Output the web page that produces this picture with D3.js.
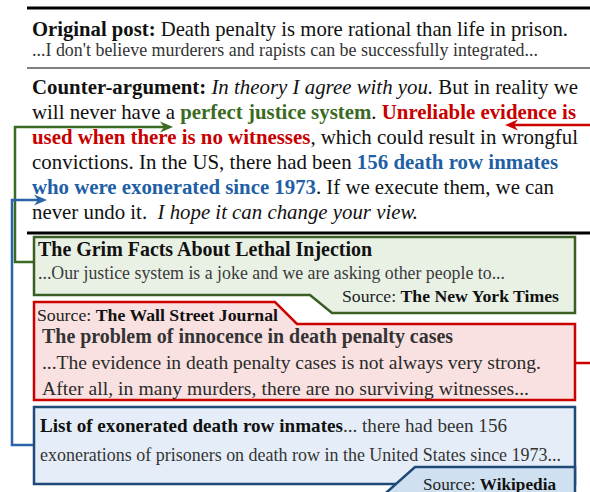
<!DOCTYPE html>
<html><head><meta charset="utf-8">
<script src="https://cdn.jsdelivr.net/npm/d3@7"></script>
<style>
body{margin:0;background:#fff}
svg{display:block}
</style>
</head><body><svg id="c" width="590" height="492"></svg>
<script>
// ---- text data ----
const postLine = [{t:"Original post:",s:"b"},{t:" Death penalty is more rational than life in prison."}];
const postSnippet = "...I don't believe murderers and rapists can be successfully integrated...";
const counterLines = [
  [{t:"Counter-argument:",s:"b"},{t:" "},{t:"In theory I agree with you.",s:"i"},{t:" But in reality we"}],
  [{t:"will never have a "},{t:"perfect justice system",s:"b",c:"g"},{t:". "},{t:"Unreliable evidence is",s:"b",c:"r"}],
  [{t:"used when there is no witnesses",s:"b",c:"r"},{t:", which could result in wrongful"}],
  [{t:"convictions. In the US, there had been "},{t:"156 death row inmates",s:"b",c:"b"}],
  [{t:"who were exonerated since 1973",s:"b",c:"b"},{t:". If we execute them, we can"}],
  [{t:"never undo it.  "},{t:"I hope it can change your view.",s:"i"}]
];
const counterWidths = [546, 544, 546, 526, 522, 386];
const greenCard = {title:"The Grim Facts About Lethal Injection",
  snippet:"...Our justice system is a joke and we are asking other people to...",
  source:"The New York Times"};
const redCard = {title:"The problem of innocence in death penalty cases",
  snippet:["...The evidence in death penalty cases is not always very strong.",
           "After all, in many murders, there are no surviving witnesses..."],
  source:"The Wall Street Journal"};
const blueCard = {title:"List of exonerated death row inmates",
  tail:"... there had been 156",
  snippet:"exonerations of prisoners on death row in the United States since 1973...",
  source:"Wikipedia"};

// ---- styling ----
const FONT = '"Liberation Serif","Times New Roman",Tinos,serif';
const COL = {g:"#3b6b22", r:"#c80000", b:"#1f5fa6"};
const svg = d3.select("#c");
const yLine = d3.scaleLinear().domain([0,5]).range([94,219]);

function rich(x, y, segs, fill){
  const t = svg.append("text").attr("x",x).attr("y",y)
    .style("font-family",FONT).style("white-space","pre").attr("font-size",20).attr("fill",fill||"#111");
  segs.forEach(s=>{
    const ts = t.append("tspan").text(s.t);
    if(s.s==="b") ts.attr("font-weight","bold");
    if(s.s==="i") ts.attr("font-style","italic");
    if(s.c) ts.attr("fill", COL[s.c]);
    if(s.f) ts.attr("fill", s.f);
  });
  return t;
}
// fit a group of lines: common font size from median ratio, then exact width via spacing
function fit(texts, widths){
  const ratios = texts.map((t,i)=> widths[i]/t.node().getComputedTextLength());
  const r = d3.median(ratios);
  texts.forEach((t,i)=>{
    t.attr("font-size", 20*r);
    t.attr("textLength", widths[i]).attr("lengthAdjust","spacing");
  });
}

// rules
svg.append("line").attr("x1",27).attr("x2",590).attr("y1",8).attr("y2",8).attr("stroke","#000").attr("stroke-width",3);
svg.append("line").attr("x1",27).attr("x2",590).attr("y1",68).attr("y2",68).attr("stroke","#555").attr("stroke-width",1.5);
svg.append("line").attr("x1",27).attr("x2",590).attr("y1",233).attr("y2",233).attr("stroke","#000").attr("stroke-width",3);

// post
fit([rich(32, 36, postLine)], [536]);
fit([rich(32, 56, [{t:postSnippet}], "#333")], [506]);

// counter-argument
fit(counterLines.map((l,i)=> rich(32, yLine(i), l)), counterWidths);

// arrow helper
function arrow(pts, color){
  const n = pts.length;
  const [tx,ty] = pts[n-1];
  const dir = Math.sign(tx - pts[n-2][0]);
  const body = pts.slice(0,-1).concat([[tx - dir*8, ty]]);
  svg.append("path").attr("d", d3.line()(body))
    .attr("fill","none").attr("stroke",color).attr("stroke-width",2.5);
  svg.append("path")
    .attr("d",`M${tx},${ty} L${tx-dir*13},${ty-5.5} L${tx-dir*9},${ty} L${tx-dir*13},${ty+5.5} Z`)
    .attr("fill",color);
}
function poly(pts,color){
  svg.append("path").attr("d",d3.line()(pts)).attr("fill","none").attr("stroke",color).attr("stroke-width",2.5);
}

// connectors
arrow([[34,262],[15,262],[15,127],[173,127]], "#3b6b22");
arrow([[34,445],[12,445],[12,200],[47,200]], "#2a64a8");
poly([[575,363],[592,363]], "#cc0000");
arrow([[592,125],[505,125]], "#cc0000");

// green card
svg.append("path").attr("d","M34,237 H575 V313 H332 L310,295 H34 Z")
  .attr("fill","#e9f1e5").attr("stroke","#3b5e23").attr("stroke-width",2.5);
fit([rich(38, 256, [{t:greenCard.title,s:"b"}], "#111")], [334]);
fit([rich(38, 279, [{t:greenCard.snippet}], "#3a3a3a")], [467]);
fit([rich(342, 302, [{t:"Source: "},{t:greenCard.source,s:"b",f:"#111"}], "#222")], [217]);

// red card
svg.append("path").attr("d","M34,302 H275 L297,324 H575 V400 H34 Z")
  .attr("fill","#f9e1e1").attr("stroke","#cc0000").attr("stroke-width",2.5);
fit([rich(37, 321, [{t:"Source: "},{t:redCard.source,s:"b",f:"#111"}], "#222")], [241]);
fit([rich(42, 343, [{t:redCard.title,s:"b"}], "#333")], [411]);
fit([rich(42, 369, [{t:redCard.snippet[0]}], "#2a2a2a"), rich(42, 395, [{t:redCard.snippet[1]}], "#2a2a2a")], [499, 487]);

// blue card
svg.append("rect").attr("x",34).attr("y",407).attr("width",541).attr("height",77)
  .attr("fill","#e5eef8").attr("stroke","#1f4a78").attr("stroke-width",2.5);
svg.append("path").attr("d","M415,467 H575 V500 H378 Z")
  .attr("fill","#cfe0f1").attr("stroke","#1f4a78").attr("stroke-width",2.5);
fit([rich(40, 432, [{t:blueCard.title,s:"b",f:"#111"},{t:blueCard.tail,f:"#333"}])], [467]);
fit([rich(40, 461, [{t:blueCard.snippet}], "#333")], [521]);
fit([rich(423, 490, [{t:"Source: "},{t:blueCard.source,s:"b",f:"#111"}], "#222")], [133]);
</script>
</body></html>
